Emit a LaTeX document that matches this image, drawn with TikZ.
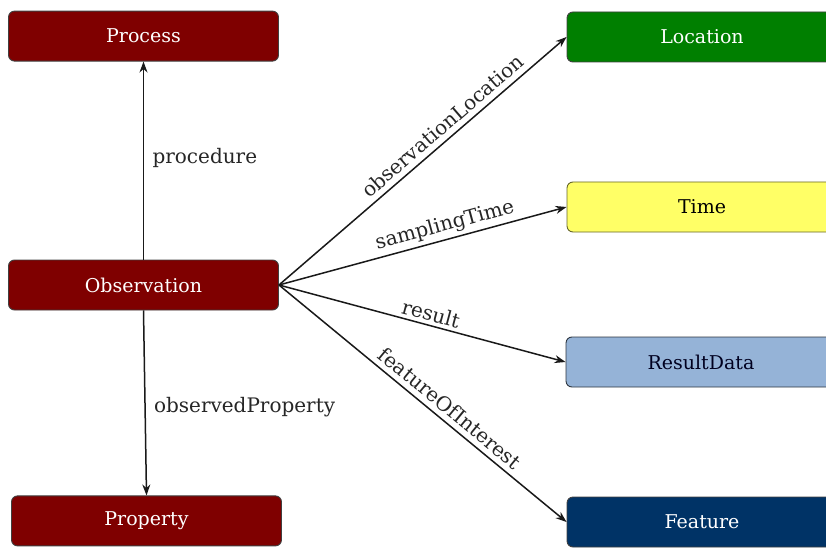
\documentclass[tikz,border=0pt]{standalone}
\usepackage{fontspec}
\setmainfont{DejaVu Serif}
\usetikzlibrary{arrows.meta}
\usetikzlibrary{positioning}
\definecolor{classred}{HTML}{7F0000}
\definecolor{locgreen}{HTML}{007F00}
\definecolor{timeyellow}{HTML}{FFFF66}
\definecolor{resultblue}{HTML}{95B3D7}
\definecolor{featurenavy}{HTML}{003366}
\tikzset{class box/.style={draw=black!75, line width=0.9pt, rounded corners=6pt, minimum width=270pt, minimum height=50pt, text=white, font=\fontsize{19}{22}\selectfont}}
\tikzset{relation/.style={-{Stealth[length=11pt,width=8pt]}, line width=1.5pt, black!90}}
\tikzset{role/.style={font=\fontsize{20}{24}\selectfont, text=black!85}}
\begin{document}
\begin{tikzpicture}[x=1pt, y=1pt]
\clip (0,0) rectangle (826,547);
\node[class box, fill=classred] (obs) at (143.5,262) {Observation};
\node[class box, fill=classred, above=198pt of obs] (proc) {Process};
\node[class box, fill=classred, below=185pt of obs, xshift=3pt] (prop) {Property};
\node[class box, fill=locgreen] (loc) at (702,510) {Location};
\node[class box, fill=timeyellow, draw=black!60!timeyellow, text=black] (time) at (702,340) {Time};
\node[class box, fill=resultblue, draw=black!70!resultblue, text=black!80!blue!60!black] (res) at (701,185) {ResultData};
\node[class box, fill=featurenavy] (feat) at (702,25) {Feature};
\draw[relation] (obs.north) -- node[role, right, xshift=5pt, yshift=3pt] {procedure} (proc.south);
\draw[relation] (obs.south) -- node[role, right, xshift=5pt, yshift=-4pt] {observedProperty} (prop.north);
\draw[relation] (obs.east) -- node[role, above, sloped, pos=0.6, yshift=2pt] {observationLocation} (loc.west);
\draw[relation] (obs.east) -- node[role, above, sloped, pos=0.59] {samplingTime} (time.west);
\draw[relation] (obs.east) -- node[role, above, sloped, pos=0.52] {result} (res.west);
\draw[relation] (obs.east) -- node[role, above, sloped, pos=0.565, yshift=2pt] {featureOfInterest} (feat.west);
\end{tikzpicture}
\end{document}
